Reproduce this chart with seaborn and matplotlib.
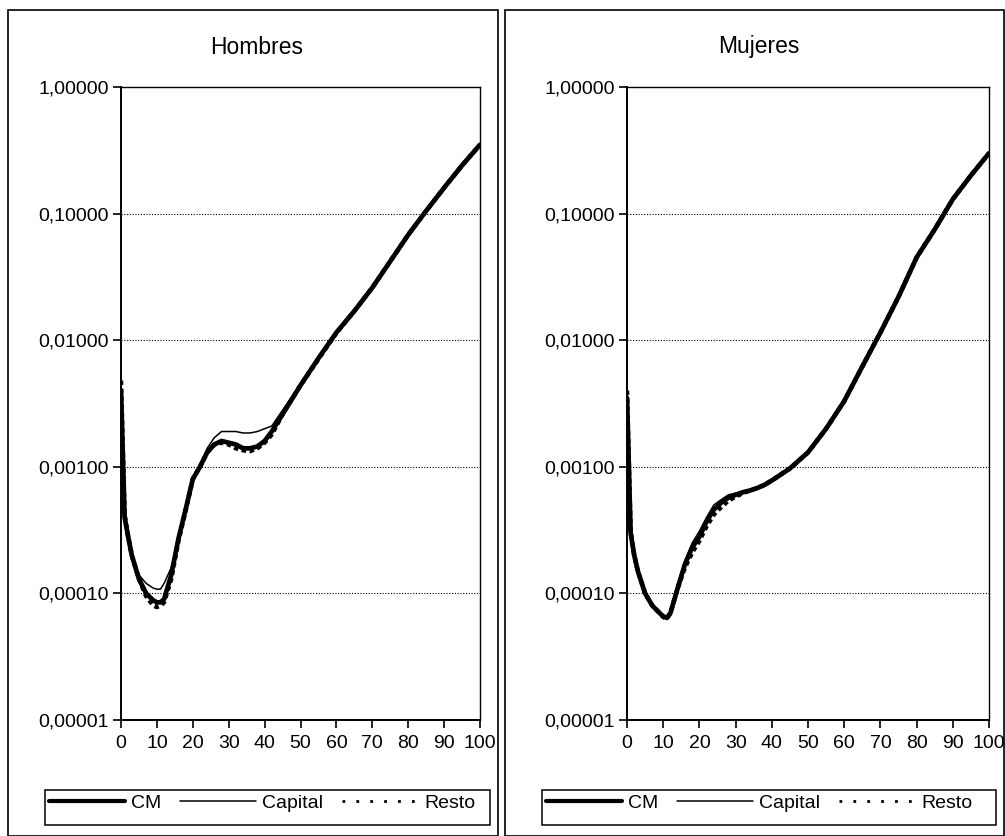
import numpy as np
import pandas as pd
import matplotlib
matplotlib.use("Agg")
import matplotlib.pyplot as plt
import seaborn as sns
from matplotlib.ticker import FixedLocator, FuncFormatter, NullLocator
from matplotlib.patches import Rectangle
from matplotlib.lines import Line2D

# ---------------- data ----------------
ages = [0, 1, 2, 3, 5, 7, 9, 10, 11, 12, 14, 16, 18, 20, 22, 24, 26, 28, 30,
        32, 34, 36, 38, 40, 42, 45, 50, 55, 60, 65, 70, 75, 80, 85, 90, 95, 100]

hombres_cm = [0.0040, 0.00040, 0.00028, 0.00020, 0.00013, 0.00010, 0.000088, 0.000085,
              0.000085, 0.00009, 0.00014, 0.00027, 0.00046, 0.0008, 0.0010, 0.0013,
              0.0015, 0.0016, 0.00155, 0.0015, 0.0014, 0.0014, 0.00145, 0.0016, 0.0019,
              0.0026, 0.0044, 0.0072, 0.0115, 0.017, 0.026, 0.042, 0.068, 0.105, 0.16,
              0.24, 0.35]
hombres_capital = [0.0035, 0.00038, 0.00028, 0.00020, 0.00014, 0.00012, 0.00011, 0.000108,
                   0.000108, 0.00012, 0.00016, 0.00028, 0.00047, 0.0008, 0.0010, 0.0014,
                   0.0017, 0.0019, 0.0019, 0.0019, 0.00185, 0.00185, 0.0019, 0.0020, 0.0021,
                   0.0028, 0.0045, 0.0072, 0.0115, 0.017, 0.026, 0.042, 0.068, 0.105, 0.16,
                   0.24, 0.35]
hombres_resto = [0.0048, 0.00042, 0.00028, 0.00020, 0.00013, 0.000095, 0.00008, 0.000078,
                 0.00008, 0.000085, 0.00013, 0.00026, 0.00045, 0.0008, 0.0010, 0.0013,
                 0.0015, 0.00155, 0.0015, 0.0014, 0.00135, 0.00133, 0.0014, 0.00155, 0.0018,
                 0.0026, 0.0044, 0.0071, 0.0114, 0.017, 0.026, 0.042, 0.068, 0.105, 0.16,
                 0.24, 0.35]

mujeres_cm = [0.0035, 0.00030, 0.00020, 0.00015, 0.00010, 0.00008, 0.00007, 0.000066,
              0.000064, 0.00007, 0.00011, 0.00017, 0.00023, 0.00028, 0.00037, 0.00046,
              0.00052, 0.00057, 0.0006, 0.00063, 0.00065, 0.00068, 0.00072, 0.00078,
              0.00085, 0.00097, 0.0013, 0.0020, 0.0033, 0.0062, 0.0115, 0.022, 0.045,
              0.075, 0.13, 0.20, 0.30]
mujeres_capital = [0.0030, 0.00029, 0.00020, 0.00015, 0.00010, 0.00008, 0.00007, 0.000066,
                   0.000065, 0.000072, 0.00012, 0.00018, 0.00025, 0.00031, 0.00040, 0.00050,
                   0.00055, 0.0006, 0.00062, 0.00064, 0.00066, 0.00069, 0.00073, 0.00078,
                   0.00085, 0.00097, 0.0013, 0.0020, 0.0033, 0.0062, 0.0115, 0.022, 0.045,
                   0.075, 0.13, 0.20, 0.30]
mujeres_resto = [0.0040, 0.00031, 0.00020, 0.00015, 0.00010, 0.00008, 0.00007, 0.000065,
                 0.000063, 0.00007, 0.00011, 0.00016, 0.00021, 0.00026, 0.00034, 0.00042,
                 0.00048, 0.00054, 0.00058, 0.00062, 0.00065, 0.00068, 0.00072, 0.00078,
                 0.00085, 0.00097, 0.0013, 0.0020, 0.0033, 0.0062, 0.0115, 0.022, 0.045,
                 0.075, 0.13, 0.20, 0.30]

series_names = ["CM", "Capital", "Resto"]
panel_titles = ["Hombres", "Mujeres"]
x_ticks = [0, 10, 20, 30, 40, 50, 60, 70, 80, 90, 100]
y_ticks = [0.00001, 0.0001, 0.001, 0.01, 0.1, 1.0]

# ---------------- style ----------------
sns.set_theme(style="white")
plt.rcParams['font.family'] = ['Liberation Sans', 'DejaVu Sans']
plt.rcParams['text.color'] = 'black'

styles = {
    "CM": dict(lw=3.4, ls="-"),
    "Capital": dict(lw=1.1, ls="-"),
    "Resto": dict(lw=3.2, ls=(0, (1, 0.8))),
}
legend_styles = {
    "CM": dict(lw=3.0, ls="-"),
    "Capital": dict(lw=1.1, ls="-"),
    "Resto": dict(lw=2.0, ls=(0, (1, 4))),
}

W, H = 1005, 836
fig = plt.figure(figsize=(W / 100, H / 100), dpi=100)

panels = [
    (panel_titles[0], [hombres_cm, hombres_capital, hombres_resto], (121, 480), (8, 498)),
    (panel_titles[1], [mujeres_cm, mujeres_capital, mujeres_resto], (627, 989), (505, 1004)),
]

for title, data, (xl, xr), (bl, br) in panels:
    # panel border
    fig.add_artist(Rectangle((bl / W, 0.0), (br - bl) / W, 1 - 10 / H,
                             transform=fig.transFigure, fill=False,
                             edgecolor="black", lw=1.2))
    top, bot = 87, 720
    ax = fig.add_axes([xl / W, 1 - bot / H, (xr - xl) / W, (bot - top) / H])
    for name, vals in zip(series_names, data):
        df = pd.DataFrame({"Edad": ages, "q": vals})
        sns.lineplot(data=df, x="Edad", y="q", ax=ax, color="black",
                     linewidth=styles[name]["lw"], linestyle=styles[name]["ls"],
                     legend=False)
    ax.set_yscale("log")
    ax.set_ylim(1e-5, 1.0)
    ax.set_xlim(0, 100)
    ax.yaxis.set_major_locator(FixedLocator(y_ticks))
    ax.yaxis.set_minor_locator(NullLocator())
    ax.yaxis.set_major_formatter(FuncFormatter(lambda v, p: f"{v:.5f}".replace(".", ",")))
    ax.set_xticks(x_ticks)
    ax.set_xticklabels([str(t) for t in x_ticks])
    ax.set_xlabel("")
    ax.set_ylabel("")
    for sp in ax.spines.values():
        sp.set_visible(True)
        sp.set_color("black")
        sp.set_linewidth(1.0)
    ax.spines["left"].set_linewidth(1.4)
    ax.spines["bottom"].set_linewidth(1.4)
    ax.tick_params(axis="both", which="major", direction="out", length=6, width=1.2,
                   color="black", labelsize=14, labelcolor="black", bottom=True, left=True)
    ax.tick_params(axis="x", pad=5)
    ax.tick_params(axis="y", pad=3)
    for yv in y_ticks[:-1]:
        ax.axhline(yv, color="black", lw=0.8, ls=(0, (1, 1.5)), zorder=0)
    fig.text(((bl + br) / 2 + 4) / W, 1 - 47 / H, title, ha="center", va="center",
             fontsize=16.5, color="black")

    # legend
    handles = [Line2D([], [], color="black", linewidth=legend_styles[n]["lw"],
                      linestyle=legend_styles[n]["ls"]) for n in series_names]
    lx0, lx1 = bl + 37, br - 8
    ly0, ly1 = 790, 825
    fig.add_artist(Rectangle((lx0 / W, 1 - ly1 / H), (lx1 - lx0) / W, (ly1 - ly0) / H,
                             transform=fig.transFigure, fill=False,
                             edgecolor="black", lw=1.1))
    leg = fig.legend(handles, series_names, loc="upper left",
                     bbox_to_anchor=((lx0 + 4) / W, 1 - (ly0 + 4) / H),
                     bbox_transform=fig.transFigure, ncol=3,
                     frameon=False, fontsize=14, handlelength=3.9, handletextpad=0.3,
                     columnspacing=1.0, borderpad=0.0, borderaxespad=0)
    for t in leg.get_texts():
        t.set_color("black")

fig.savefig("out.png", dpi=100)
